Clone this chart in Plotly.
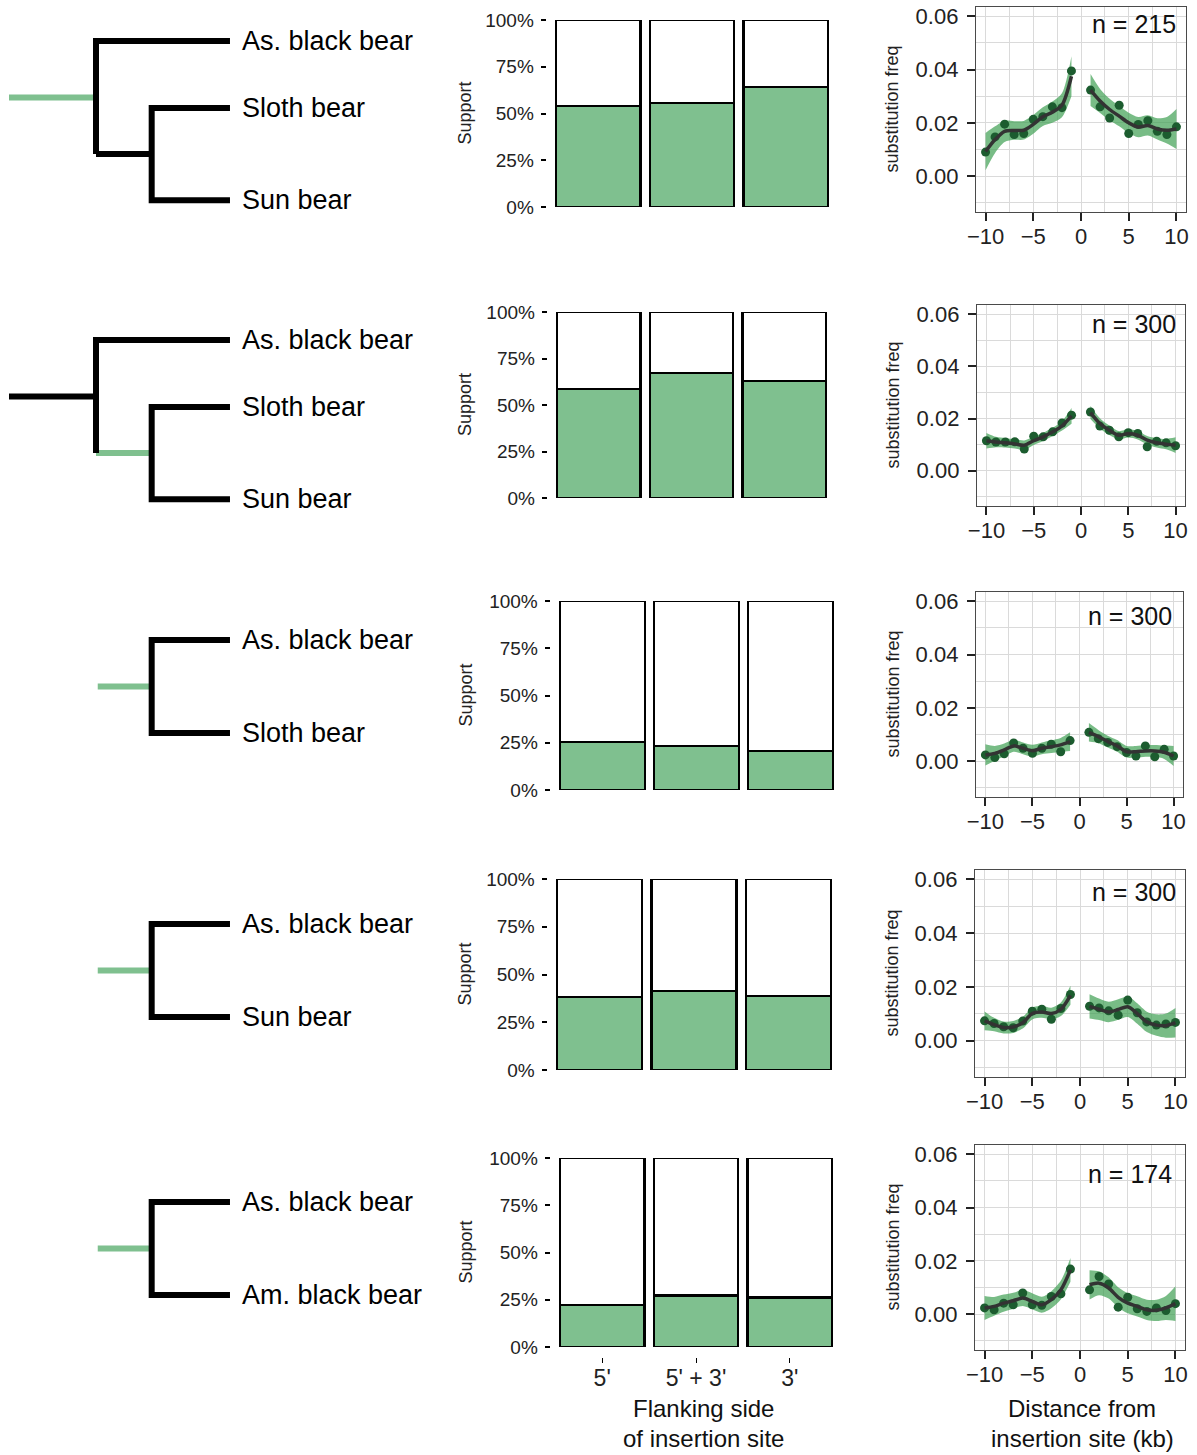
import plotly.graph_objects as go

# ---------------- data ----------------
TREE_TIPS = [
    ["As. black bear", "Sloth bear", "Sun bear"],
    ["As. black bear", "Sloth bear", "Sun bear"],
    ["As. black bear", "Sloth bear"],
    ["As. black bear", "Sun bear"],
    ["As. black bear", "Am. black bear"],
]
TREE_HIGHLIGHT = ["stem", "inner", "stem", "stem", "stem"]

FLANK_CATEGORIES = ["5'", "5' + 3'", "3'"]
SUPPORT = [
    [0.541, 0.558, 0.640],
    [0.585, 0.670, 0.628],
    [0.254, 0.233, 0.206],
    [0.381, 0.413, 0.386],
    [0.223, 0.273, 0.262],
]
N_SITES = [215, 300, 300, 300, 174]

DIST_LEFT = [-10, -9, -8, -7, -6, -5, -4, -3, -2, -1]
DIST_RIGHT = [1, 2, 3, 4, 5, 6, 7, 8, 9, 10]

FREQ_LEFT = [
    [0.0090, 0.0147, 0.0195, 0.0156, 0.0160, 0.0213, 0.0223, 0.0260, 0.0257, 0.0395],
    [0.0115, 0.0110, 0.0110, 0.0111, 0.0083, 0.0132, 0.0130, 0.0149, 0.0183, 0.0213],
    [0.0023, 0.0013, 0.0027, 0.0068, 0.0048, 0.0029, 0.0048, 0.0063, 0.0035, 0.0077],
    [0.0074, 0.0064, 0.0052, 0.0048, 0.0073, 0.0110, 0.0117, 0.0080, 0.0120, 0.0172],
    [0.0023, 0.0016, 0.0041, 0.0035, 0.0079, 0.0035, 0.0033, 0.0066, 0.0076, 0.0169],
]
FREQ_RIGHT = [
    [0.0323, 0.0260, 0.0218, 0.0266, 0.0160, 0.0194, 0.0208, 0.0168, 0.0156, 0.0185],
    [0.0225, 0.0171, 0.0155, 0.0130, 0.0146, 0.0143, 0.0092, 0.0113, 0.0107, 0.0096],
    [0.0108, 0.0084, 0.0070, 0.0054, 0.0032, 0.0019, 0.0057, 0.0016, 0.0044, 0.0019],
    [0.0128, 0.0122, 0.0111, 0.0095, 0.0151, 0.0104, 0.0070, 0.0058, 0.0062, 0.0068],
    [0.0091, 0.0141, 0.0113, 0.0026, 0.0063, 0.0020, 0.0010, 0.0023, 0.0013, 0.0039],
]
FIT_LEFT = [
    [0.0092, 0.0137, 0.0168, 0.0171, 0.0172, 0.0194, 0.0223, 0.0240, 0.0266, 0.0375],
    [0.0115, 0.0110, 0.0107, 0.0103, 0.0098, 0.0115, 0.0130, 0.0149, 0.0172, 0.0210],
    [0.0023, 0.0029, 0.0042, 0.0057, 0.0048, 0.0039, 0.0048, 0.0054, 0.0061, 0.0073],
    [0.0074, 0.0060, 0.0049, 0.0051, 0.0067, 0.0101, 0.0107, 0.0101, 0.0117, 0.0169],
    [0.0023, 0.0029, 0.0041, 0.0050, 0.0060, 0.0048, 0.0035, 0.0054, 0.0091, 0.0166],
]
FIT_RIGHT = [
    [0.0323, 0.0282, 0.0250, 0.0225, 0.0200, 0.0184, 0.0190, 0.0177, 0.0172, 0.0177],
    [0.0223, 0.0181, 0.0155, 0.0136, 0.0143, 0.0136, 0.0117, 0.0107, 0.0102, 0.0098],
    [0.0108, 0.0092, 0.0073, 0.0057, 0.0035, 0.0035, 0.0038, 0.0038, 0.0033, 0.0019],
    [0.0128, 0.0117, 0.0107, 0.0116, 0.0126, 0.0101, 0.0070, 0.0058, 0.0056, 0.0067],
    [0.0110, 0.0116, 0.0098, 0.0063, 0.0041, 0.0029, 0.0016, 0.0014, 0.0023, 0.0039],
]
BAND_LEFT = [
    [0.0070, 0.0050, 0.0040, 0.0035, 0.0035, 0.0035, 0.0035, 0.0040, 0.0045, 0.0075],
    [0.0030, 0.0020, 0.0018, 0.0018, 0.0018, 0.0016, 0.0016, 0.0016, 0.0018, 0.0030],
    [0.0040, 0.0028, 0.0024, 0.0022, 0.0022, 0.0022, 0.0022, 0.0024, 0.0026, 0.0035],
    [0.0035, 0.0025, 0.0022, 0.0022, 0.0022, 0.0022, 0.0022, 0.0022, 0.0025, 0.0035],
    [0.0045, 0.0035, 0.0032, 0.0030, 0.0030, 0.0030, 0.0030, 0.0032, 0.0035, 0.0045],
]
BAND_RIGHT = [
    [0.0060, 0.0045, 0.0040, 0.0038, 0.0038, 0.0038, 0.0038, 0.0040, 0.0050, 0.0075],
    [0.0025, 0.0020, 0.0018, 0.0016, 0.0016, 0.0016, 0.0016, 0.0018, 0.0020, 0.0030],
    [0.0035, 0.0025, 0.0022, 0.0022, 0.0022, 0.0022, 0.0022, 0.0022, 0.0025, 0.0038],
    [0.0045, 0.0040, 0.0038, 0.0038, 0.0038, 0.0038, 0.0038, 0.0040, 0.0045, 0.0055],
    [0.0055, 0.0045, 0.0040, 0.0038, 0.0038, 0.0038, 0.0038, 0.0040, 0.0045, 0.0065],
]

SUPPORT_TICKS = [0, 0.25, 0.5, 0.75, 1.0]
SUPPORT_TICKTEXT = ["0%", "25%", "50%", "75%", "100%"]
FREQ_TICKS = [0.00, 0.02, 0.04, 0.06]
DIST_TICKS = [-10, -5, 0, 5, 10]

# ---------------- layout / style ----------------
W, H = 1197, 1455
FONT = "Liberation Sans, Arial, Helvetica, sans-serif"
GREEN = "#7fc08f"
RIBBON = "rgba(62,160,82,0.70)"
POINT = "#1c5c2f"
FITLINE = "#333333"
GRID = "#dadada"

def fx(p):
    return p / W

def fy(p):
    return 1 - p / H

# tree geometry (depth units; 1 unit = 87 px)
UNIT = 87.0
TREE_X0 = 9.0
ROOT_X, N1_X, N2_X, TIP_X, STEM2_X = 0.0, 1.0, 1.64, 2.54, 1.02
TIP_Y3 = [0.0, 0.77, 1.83]
TIP_Y2 = [0.0, 1.07]
TREE_TIP0 = [41, 340, 640, 924, 1202]

BAR_PX = [  # (bar1 left, bar3 right, 100% y, 0% y)
    (556, 828, 20, 207),
    (557, 826, 312, 498),
    (560, 833, 601, 790),
    (557, 831, 879, 1070),
    (560, 832, 1158, 1347),
]
LINE_PX = [  # (left, right, top, bottom)
    (976, 1186, 7, 212),
    (977, 1185, 305, 506),
    (976, 1183, 592, 797),
    (975, 1185, 870, 1077),
    (975, 1185, 1145, 1350),
]
N_LABEL_PX = [(1178, 23.5), (1178, 323.5), (1174, 615.5), (1178, 892), (1174, 1173.5)]
FREQ_RANGE = [-0.0135, 0.0635]

fig = go.Figure()
layout = dict(
    width=W, height=H, margin=dict(l=0, r=0, t=0, b=0, pad=0, autoexpand=False),
    paper_bgcolor="white", plot_bgcolor="white",
    showlegend=False, barmode="stack",
    font=dict(family=FONT, color="black"),
)
annotations = []


def ax(n):
    return ("x" if n == 1 else f"x{n}"), ("y" if n == 1 else f"y{n}")


def lk(prefix, n):
    return prefix if n == 1 else f"{prefix}{n}"


for r in range(5):
    nt, nb, nl = 3 * r + 1, 3 * r + 2, 3 * r + 3

    # ---------- tree ----------
    xa, ya = ax(nt)
    tip0 = TREE_TIP0[r]
    layout[lk("xaxis", nt)] = dict(
        domain=[0, fx(440)], range=[(0 - TREE_X0) / UNIT, (440 - TREE_X0) / UNIT],
        visible=False, fixedrange=True,
    )
    layout[lk("yaxis", nt)] = dict(
        domain=[fy(tip0 + 210), fy(tip0 - 40)], range=[210 / UNIT, -40 / UNIT],
        visible=False, anchor=xa, fixedrange=True,
    )
    tips = TREE_TIPS[r]
    black, green = [], []
    if len(tips) == 3:
        yA, yB, yC = TIP_Y3
        n2y = (yB + yC) / 2
        n1y = (yA + n2y) / 2
        black.append([(TIP_X, yA), (N1_X, yA), (N1_X, n2y)])
        black.append([(TIP_X, yB), (N2_X, yB), (N2_X, yC), (TIP_X, yC)])
        stem = [(ROOT_X, n1y), (N1_X, n1y)]
        inner = [(N1_X, n2y), (N2_X, n2y)]
        (green if TREE_HIGHLIGHT[r] == "stem" else black).append(stem)
        (green if TREE_HIGHLIGHT[r] == "inner" else black).append(inner)
        tip_y = TIP_Y3
    else:
        yA, yB = TIP_Y2
        ny = (yA + yB) / 2
        black.append([(TIP_X, yA), (N2_X, yA), (N2_X, yB), (TIP_X, yB)])
        green.append([(STEM2_X, ny), (N2_X, ny)])
        tip_y = TIP_Y2
    for segs, col in ((green, GREEN), (black, "black")):
        xs, ys = [], []
        for seg in segs:
            xs += [p[0] for p in seg] + [None]
            ys += [p[1] for p in seg] + [None]
        fig.add_trace(go.Scatter(x=xs, y=ys, mode="lines", xaxis=xa, yaxis=ya,
                                 line=dict(color=col, width=6), hoverinfo="skip"))
    for name, ty in zip(tips, tip_y):
        annotations.append(dict(x=TIP_X, y=ty, xref=xa, yref=ya, text=name,
                                showarrow=False, xanchor="left", yanchor="middle",
                                xshift=10, font=dict(size=27, family=FONT, color="black")))

    # ---------- bars ----------
    xa, ya = ax(nb)
    b1l, b3r, ytop, ybot = BAR_PX[r]
    u = (b3r - b1l) / 2.9
    left, right = b1l - 0.1 * u, b3r + 0.1 * u
    last = r == 4
    xcfg = dict(domain=[fx(left), fx(right)], range=[-0.55, 2.55], type="category",
                categoryorder="array", categoryarray=FLANK_CATEGORIES,
                showgrid=False, zeroline=False, showline=False, anchor=ya, fixedrange=True)
    if last:
        xcfg.update(ticks="outside", ticklen=5, tickwidth=1.3, tickcolor="black",
                    showticklabels=True, tickfont=dict(size=23, color="#222"),
                    anchor="free", position=fy(1357), ticklabelstandoff=-5)
    else:
        xcfg.update(ticks="", showticklabels=False)
    layout[lk("xaxis", nb)] = xcfg
    layout[lk("yaxis", nb)] = dict(
        domain=[fy(ybot), fy(ytop)], range=[0, 1], anchor=xa,
        tickvals=SUPPORT_TICKS, ticktext=SUPPORT_TICKTEXT,
        ticks="outside", ticklen=5, tickwidth=1.6, tickcolor="black",
        tickfont=dict(size=19, color="#222"), ticklabelstandoff=3,
        showgrid=False, zeroline=False, showline=False, fixedrange=True,
    )
    vals = SUPPORT[r]
    fig.add_trace(go.Bar(x=FLANK_CATEGORIES, y=vals, width=0.9, xaxis=xa, yaxis=ya,
                         marker=dict(color=GREEN, line=dict(color="black", width=2.2)),
                         hoverinfo="skip"))
    fig.add_trace(go.Bar(x=FLANK_CATEGORIES, y=[1 - v for v in vals], width=0.9,
                         xaxis=xa, yaxis=ya,
                         marker=dict(color="white", line=dict(color="black", width=2.2)),
                         hoverinfo="skip"))
    annotations.append(dict(x=fx(465), y=fy((ytop + ybot) / 2), xref="paper", yref="paper",
                            text="Support", textangle=-90, showarrow=False,
                            xanchor="center", yanchor="middle",
                            font=dict(size=18, family=FONT, color="#222")))

    # ---------- line ----------
    xa, ya = ax(nl)
    l, rr, t, b = LINE_PX[r]
    layout[lk("xaxis", nl)] = dict(
        domain=[fx(l), fx(rr)], range=[-11, 11], anchor=ya,
        tickvals=DIST_TICKS, ticks="outside", ticklen=8, tickwidth=1.6, tickcolor="#222",
        tickfont=dict(size=22, color="#222"), ticklabelstandoff=-4,
        showline=True, mirror=True, linecolor="#4a4a4a", linewidth=1.3,
        showgrid=True, gridcolor=GRID, gridwidth=1.2, zeroline=False,
        minor=dict(tick0=0, dtick=2.5, showgrid=True, gridcolor=GRID, gridwidth=1.2, ticks=""),
        fixedrange=True,
    )
    layout[lk("yaxis", nl)] = dict(
        domain=[fy(b), fy(t)], range=FREQ_RANGE, anchor=xa,
        tickvals=FREQ_TICKS, tickformat=".2f", ticks="outside", ticklen=8, tickwidth=1.6,
        tickcolor="#222", tickfont=dict(size=22, color="#222"), ticklabelstandoff=4,
        showline=True, mirror=True, linecolor="#4a4a4a", linewidth=1.3,
        showgrid=True, gridcolor=GRID, gridwidth=1.2, zeroline=False,
        minor=dict(tick0=0, dtick=0.01, showgrid=True, gridcolor=GRID, gridwidth=1.2, ticks=""),
        fixedrange=True,
    )
    for xs, fit, band in ((DIST_LEFT, FIT_LEFT[r], BAND_LEFT[r]),
                          (DIST_RIGHT, FIT_RIGHT[r], BAND_RIGHT[r])):
        lo = [f - s for f, s in zip(fit, band)]
        hi = [f + s for f, s in zip(fit, band)]
        fig.add_trace(go.Scatter(x=xs, y=lo, mode="lines", xaxis=xa, yaxis=ya,
                                 line=dict(width=0, shape="spline", smoothing=0.8),
                                 hoverinfo="skip"))
        fig.add_trace(go.Scatter(x=xs, y=hi, mode="lines", xaxis=xa, yaxis=ya, fill="tonexty",
                                 fillcolor=RIBBON,
                                 line=dict(width=0, shape="spline", smoothing=0.8),
                                 hoverinfo="skip"))
    for xs, pts in ((DIST_LEFT, FREQ_LEFT[r]), (DIST_RIGHT, FREQ_RIGHT[r])):
        fig.add_trace(go.Scatter(x=xs, y=pts, mode="markers", xaxis=xa, yaxis=ya,
                                 marker=dict(color=POINT, size=9), hoverinfo="skip"))
    for xs, fit in ((DIST_LEFT, FIT_LEFT[r]), (DIST_RIGHT, FIT_RIGHT[r])):
        fig.add_trace(go.Scatter(x=xs, y=fit, mode="lines", xaxis=xa, yaxis=ya,
                                 line=dict(color=FITLINE, width=3.5, shape="spline", smoothing=0.8),
                                 hoverinfo="skip"))
    nx, nyp = N_LABEL_PX[r]
    annotations.append(dict(x=fx(nx), y=fy(nyp), xref="paper", yref="paper",
                            text=f"n = {N_SITES[r]}", showarrow=False,
                            xanchor="right", yanchor="middle",
                            font=dict(size=25, family=FONT, color="#111")))
    annotations.append(dict(x=fx(892), y=fy((t + b) / 2), xref="paper", yref="paper",
                            text="substitution freq", textangle=-90, showarrow=False,
                            xanchor="center", yanchor="middle",
                            font=dict(size=18, family=FONT, color="#222")))

for txt, cx, cy in (("Flanking side", 703, 1408), ("of insertion site", 703, 1438),
                    ("Distance from", 1082, 1408), ("insertion site (kb)", 1082, 1438)):
    annotations.append(dict(x=fx(cx), y=fy(cy), xref="paper", yref="paper", text=txt,
                            showarrow=False, xanchor="center", yanchor="middle",
                            font=dict(size=24, family=FONT, color="#111")))

layout["annotations"] = annotations
fig.update_layout(**layout)
fig.write_html(
    "out.html",
    config={"displayModeBar": False},
    post_script="document.body.style.margin='0px';document.body.style.padding='0px';",
)
